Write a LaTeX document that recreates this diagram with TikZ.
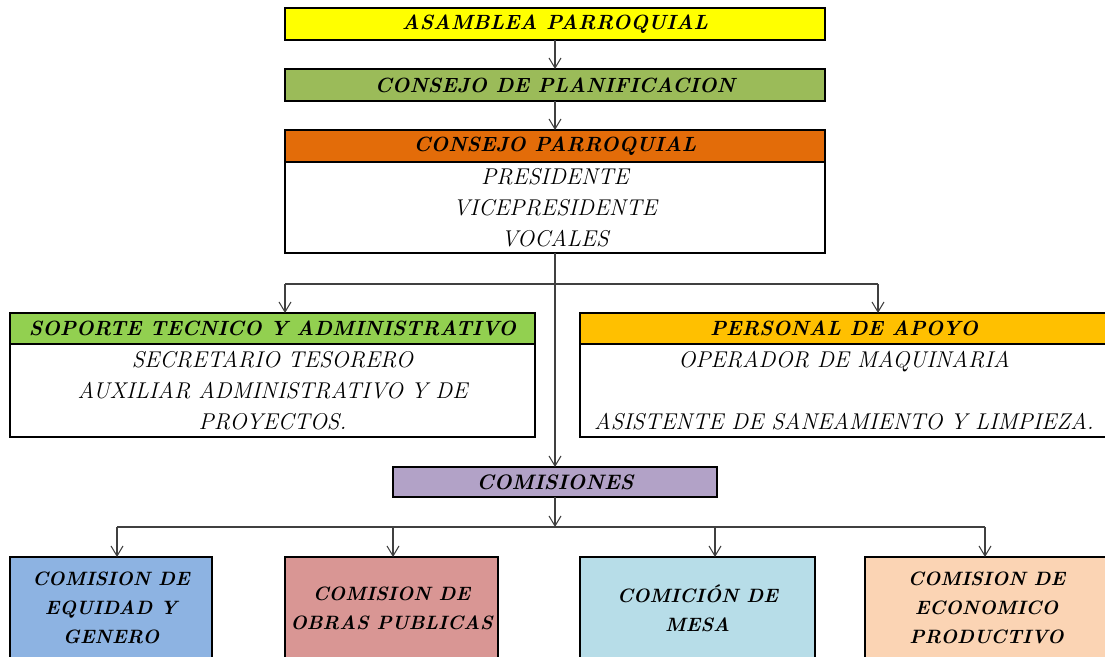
\documentclass[tikz,border=0pt]{standalone}
\usetikzlibrary{positioning,arrows.meta}

\definecolor{asamyellow}{HTML}{FFFF00}
\definecolor{planolive}{HTML}{9BBB59}
\definecolor{cporange}{HTML}{E36C09}
\definecolor{sopgreen}{HTML}{92D050}
\definecolor{pergold}{HTML}{FFC000}
\definecolor{compurple}{HTML}{B2A2C7}
\definecolor{eqblue}{HTML}{8DB3E2}
\definecolor{obrasrose}{HTML}{D99694}
\definecolor{mesacyan}{HTML}{B7DDE8}
\definecolor{ecopeach}{HTML}{FBD4B4}

\begin{document}
\begin{tikzpicture}[
  head/.style={draw,inner sep=0pt,outer sep=0pt,minimum height=6.4mm,
    line width=0.8pt,font=\fontsize{11.7}{13}\selectfont\bfseries\itshape},
  body/.style={draw,fill=white,inner sep=0pt,outer sep=0pt,align=center,
    line width=0.8pt,font=\fontsize{13}{17.6}\selectfont\itshape},
  comm/.style={draw,anchor=north,inner sep=0pt,outer sep=0pt,align=center,
    minimum height=2.04cm,line width=0.8pt,
    font=\fontsize{11}{16.5}\selectfont\bfseries\itshape},
  link/.style={draw=black!75,line width=0.6pt},
  >={Straight Barb[length=2mm,width=2.4mm]}
  ]
  \useasboundingbox (0,0) rectangle (22.1,-13.14);

  % top chain
  \node[head,fill=asamyellow,minimum width=10.8cm] (asam) at (11.1,-0.48)
    {ASAMBLEA PARROQUIAL};
  \node[head,fill=planolive,minimum width=10.8cm] (plan) at (11.1,-1.70)
    {CONSEJO DE PLANIFICACION};
  \node[head,fill=cporange,minimum width=10.8cm] (cphead) at (11.1,-2.92)
    {CONSEJO PARROQUIAL};
  \node[body,below=0pt of cphead,minimum width=10.8cm,minimum height=1.82cm]
    (cpbody) {PRESIDENTE\\ VICEPRESIDENTE\\ VOCALES};

  % support and staff
  \node[head,fill=sopgreen,minimum width=10.5cm,minimum height=6.2mm]
    (sophead) at (5.45,-6.57) {SOPORTE TECNICO Y ADMINISTRATIVO};
  \node[body,below=0pt of sophead,minimum width=10.5cm,minimum height=1.86cm]
    (sopbody) {SECRETARIO TESORERO\\ AUXILIAR ADMINISTRATIVO Y DE\\ PROYECTOS.};
  \node[head,fill=pergold,minimum width=10.56cm,minimum height=6.2mm]
    (perhead) at (16.88,-6.57) {PERSONAL DE APOYO};
  \node[body,below=0pt of perhead,minimum width=10.56cm,minimum height=1.86cm]
    (perbody) {OPERADOR DE MAQUINARIA\\ ~\\ ASISTENTE DE SANEAMIENTO Y LIMPIEZA.};

  \node[head,fill=compurple,minimum width=6.48cm,minimum height=6mm,
    font=\fontsize{11.9}{13}\selectfont\bfseries\itshape]
    (comis) at (11.1,-9.64) {COMISIONES};

  % commissions
  \coordinate (busL) at (2.34,-10.54);
  \coordinate (busR) at (19.70,-10.54);
  \foreach \nm/\xc/\bw/\xa/\col/\txt in {
      equidad/2.22/4.04/2.34/eqblue/{COMISION DE\\ EQUIDAD Y\\ GENERO},
      obras/7.83/4.26/7.86/obrasrose/{COMISION DE\\ OBRAS PUBLICAS},
      mesa/13.95/4.70/14.30/mesacyan/{COMICIÓN DE\\ MESA},
      econo/19.73/4.86/19.70/ecopeach/{COMISION DE\\ ECONOMICO\\ PRODUCTIVO}}
  {
    \node[comm,fill=\col,minimum width=\bw cm] (\nm) at (\xc,-11.14) {\txt};
    \coordinate (\nm-in) at (\xa,-10.54);
    \draw[link,->] (\nm-in) -- (\nm-in |- \nm.north);
  }

  % connectors
  \draw[link,->] (asam) -- (plan);
  \draw[link,->] (plan) -- (cphead);
  \draw[link,->] (cpbody.south) -- (comis.north);
  \coordinate (splitL) at (5.70,-5.68);
  \coordinate (splitR) at (17.56,-5.68);
  \draw[link] (splitL) -- (splitR);
  \draw[link,->] (splitL) -- (splitL |- sophead.north);
  \draw[link,->] (splitR) -- (splitR |- perhead.north);
  \draw[link,->] (comis.south) -- (comis.south |- busL);
  \draw[link] (busL) -- (busR);
\end{tikzpicture}
\end{document}
